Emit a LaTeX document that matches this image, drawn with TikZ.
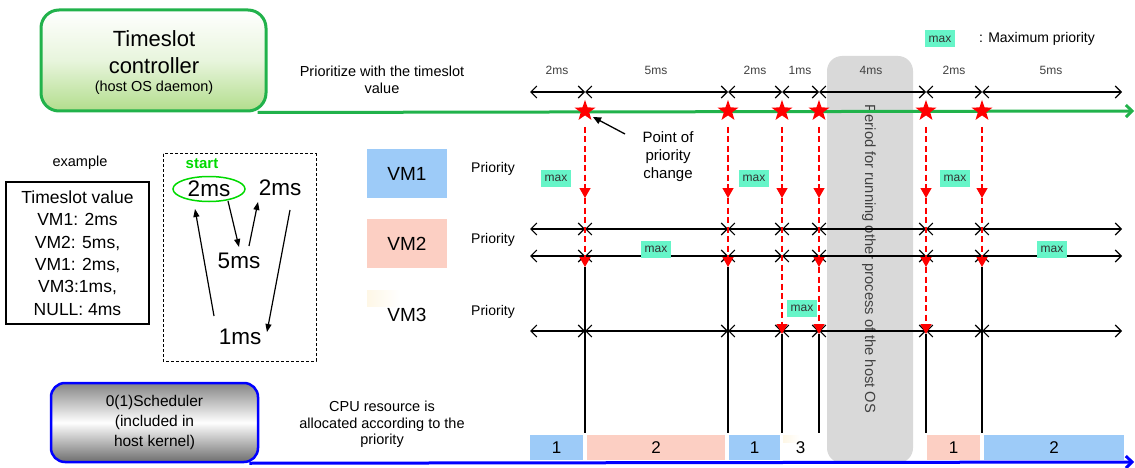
\documentclass[tikz,border=0pt]{standalone}
\usepackage{fontspec}
\setmainfont{Liberation Sans}
\usetikzlibrary{arrows.meta,shapes.geometric}
\newcommand{\fs}[2]{\fontsize{#1}{#2}\selectfont}
\definecolor{grn}{HTML}{21B24B}
\definecolor{grnfill}{HTML}{B2DD8C}
\definecolor{maxc}{HTML}{66F5C8}
\definecolor{mxtext}{HTML}{333333}
\definecolor{vmb}{HTML}{9DCBF8}
\definecolor{vmp}{HTML}{FCCFC3}
\definecolor{vmy}{HTML}{FEF7E6}
\definecolor{pgray}{HTML}{D9D9D9}
\definecolor{tgray}{HTML}{404040}
\definecolor{schtop}{HTML}{858585}
\definecolor{schbot}{HTML}{6E6E6E}
\begin{document}
\begin{tikzpicture}[x=1pt,y=-1pt,
  dim/.style={{Straight Barb[length=6pt,width=12pt]}-{Straight Barb[length=6pt,width=12pt]}, line width=1.1pt},
  rd/.style={red, line width=1.3pt, dash pattern=on 6pt off 3.5pt, -{Triangle[length=10pt,width=11pt]}},
  sl/.style={black, line width=1.2pt},
  mx/.style={fill=maxc, text=mxtext, font=\fs{12}{14}, minimum width=30pt, minimum height=17pt, inner sep=0pt},
  redstar/.style={star, star points=5, star point ratio=2.5, fill=red, minimum size=22pt, inner sep=0pt},
  lbl/.style={inner sep=0pt, align=center},
  dimlbl/.style={inner sep=0pt, text=tgray, font=\fs{12}{14}},
  vmbox/.style={inner sep=0pt, minimum width=80pt, minimum height=49pt, font=\fs{19}{20}},
  prio/.style={inner sep=0pt, font=\fs{14}{16}},
  bar/.style={inner sep=0pt, minimum height=25pt, font=\fs{17}{18}},
  gar/.style={line width=1.2pt, -{Triangle[length=8pt,width=6pt]}},
  big/.style={inner sep=0pt, font=\fs{22.5}{24}},
]
\useasboundingbox (0,0) rectangle (1135,468);

% period box
\node[fill=pgray, rounded corners=15pt, minimum width=86pt, minimum height=407pt, inner sep=0pt] (per) at (870,259.5) {};
\node[rotate=-90, text=tgray, font=\fs{14.7}{16}, inner sep=0pt] (pertext) at (869,259) {Period for running other process of the host OS};

% controller
\node[draw=grn, line width=3pt, rounded corners=18pt, minimum width=225pt, minimum height=101pt, top color=white, bottom color=grnfill, middle color=white!70!grnfill] (ctrl) at (153.5,60.5) {};
\node[lbl, font=\fs{22}{24}] (ct1) at (154,39) {Timeslot};
\node[lbl, font=\fs{22}{24}] (ct2) at (154,66) {controller};
\node[lbl, font=\fs{14.5}{16}] (ct3) at (154,88) {(host OS daemon)};
\node[lbl, font=\fs{14.5}{17}] (prz) at (382,79.5) {Prioritize with the timeslot\\value};

% legend
\node[mx] (leg) at (940,39) {max};
\node[inner sep=0pt, anchor=west, font=\fs{14}{15}] (legt) at (979,39) {: Maximum priority};

% coordinates
\coordinate (gl) at (0,111);
\foreach \x [count=\i] in {530,585,728,782,819,926,982,1122} {
  \coordinate (d\i) at (\x,92);
  \coordinate (p\i) at (\x,229);
  \coordinate (q\i) at (\x,256);
  \coordinate (w\i) at (\x,331);
  \coordinate (s\i) at (\x,127);
  \coordinate (u\i) at (\x,198);
  \coordinate (v\i) at (\x,267);
  \coordinate (z\i) at (\x,334);
  \coordinate (e\i) at (\x,433);
}

% dimensions and priority rows
\foreach \i/\j in {1/2,2/3,3/4,4/5,5/6,6/7,7/8} {
  \draw[dim] (d\i) -- (d\j);
  \draw[dim] (p\i) -- (p\j);
  \draw[dim] (q\i) -- (q\j);
  \draw[dim] (w\i) -- (w\j);
}
\node[dimlbl] (l1) at (557,70) {2ms};
\node[dimlbl] (l2) at (656,70) {5ms};
\node[dimlbl] (l3) at (755,70) {2ms};
\node[dimlbl] (l4) at (800,70) {1ms};
\node[dimlbl] (l5) at (871,70) {4ms};
\node[dimlbl] (l6) at (954,70) {2ms};
\node[dimlbl] (l7) at (1051,70) {5ms};

% green timeline
\coordinate (gEnd) at (1134,111);
\draw[grn, line width=3pt, -{Straight Barb[length=6pt,width=12pt]}] ([xshift=-10pt]ctrl.south east) -- (gEnd);

% red dashed and solid lines
\foreach \i in {2,3,7} {
  \draw[rd] (s\i) -- (u\i);
  \draw[rd] (u\i) -- (v\i);
  \draw[sl] (v\i) -- (e\i);
}
\draw[rd] (s4) -- (u4);
\draw[rd] (u4) -- (z4);
\draw[sl] (z4) -- (e4);
\foreach \i in {5,6} {
  \draw[rd] (s\i) -- (u\i);
  \draw[rd] (u\i) -- (v\i);
  \draw[rd] (v\i) -- (z\i);
  \draw[sl] (z\i) -- (e\i);
}

% stars
\foreach \i in {2,...,7} {
  \node[redstar] (st\i) at (s\i |- gl) {};
}

% point of priority change
\node[lbl, font=\fs{15}{18}] (ppc) at (668,157) {Point of\\priority\\change};
\coordinate (ppcA) at (625,134);
\draw[line width=1.3pt, -{Triangle[length=8pt,width=7pt]}] (ppcA) -- ([shift={(8,6)}]st2.center);

% VM boxes
\node[vmbox, fill=vmb] (vm1) at (407,173.5) {VM1};
\node[vmbox, fill=vmp] (vm2) at (407,243.5) {VM2};
\fill[left color=vmy, right color=white] (367,290) rectangle (400,306);
\node[inner sep=0pt, font=\fs{19}{20}] (vm3) at (407,315) {VM3};
\node[prio] (pr1) at (493,169) {Priority};
\node[prio] (pr2) at (493,240) {Priority};
\node[prio] (pr3) at (493,312) {Priority};

% max labels
\node[mx] (m1) at (556,178) {max};
\node[mx] (m2) at (754,178) {max};
\node[mx] (m3) at (955,178) {max};
\node[mx] (m4) at (656,249) {max};
\node[mx] (m5) at (1052,249) {max};
\node[mx] (m6) at (802,308) {max};

% example
\node[inner sep=0pt, font=\fs{14.5}{16}] (ex) at (80,163) {example};
\node[draw, line width=1.3pt, minimum width=143pt, minimum height=142pt, align=center, font=\fs{17.5}{22.4}, inner sep=0pt] (tsv) at (77.5,253) {Timeslot value\\VM1: 2ms\\VM2: 5ms,\\VM1: 2ms,\\VM3:1ms,\\NULL: 4ms};

% dashed box with cycle
\draw[line width=1pt, dash pattern=on 3pt off 2pt] (163,154) rectangle (316,361);
\node[inner sep=0pt, text=green!85!black, font=\bfseries\fs{15}{16}] (start) at (202,164) {start};
\node[big, ellipse, draw=green!85!black, line width=1.5pt, minimum width=72pt, minimum height=25pt] (ea) at (209,189) {2ms};
\node[big] (nc) at (280,188) {2ms};
\node[big] (nb) at (239,261) {5ms};
\node[big] (nd) at (240,337) {1ms};
\draw[gar] ([shift={(19,12)}]ea.center) -- ([shift={(0,-14)}]nb.center);
\draw[gar] ([shift={(10,-15)}]nb.center) -- ([shift={(-22,14)}]nc.center);
\draw[gar] ([shift={(10,22)}]nc.center) -- ([shift={(27,-5)}]nd.center);
\draw[gar] ([shift={(-26,-21)}]nd.center) -- ([shift={(-14,20)}]ea.center);

% scheduler
\node[draw=blue, line width=2.5pt, rounded corners=14pt, minimum width=207pt, minimum height=79pt, top color=schtop, bottom color=schbot, middle color=white, align=center, font=\fs{15.5}{20}] (sched) at (154.5,422.5) {0(1)Scheduler\\(included in\\host kernel)};
\node[lbl, font=\fs{14.5}{16.5}] (cpu) at (382,424.5) {CPU resource is\\allocated according to the\\priority};

% CPU bars
\node[bar, fill=vmb, minimum width=53pt] (c1) at (556.5,447.5) {1};
\node[bar, fill=vmp, minimum width=138pt] (c2) at (656,447.5) {2};
\node[bar, fill=vmb, minimum width=51pt] (c3) at (754.5,447.5) {1};
\fill[left color=vmy, right color=white] (783,435) rectangle (800,442);
\node[bar, minimum width=35pt] (c4) at (800.5,447.5) {3};
\node[bar, fill=vmp, minimum width=53pt] (c5) at (953.5,447.5) {1};
\node[bar, fill=vmb, minimum width=140pt] (c6) at (1054,447.5) {2};

% blue timeline
\coordinate (bEnd) at (1134,462);
\draw[blue, line width=3pt, -{Straight Barb[length=6pt,width=12pt]}] ([xshift=-10pt]sched.south east) -- (bEnd);
\end{tikzpicture}
\end{document}
